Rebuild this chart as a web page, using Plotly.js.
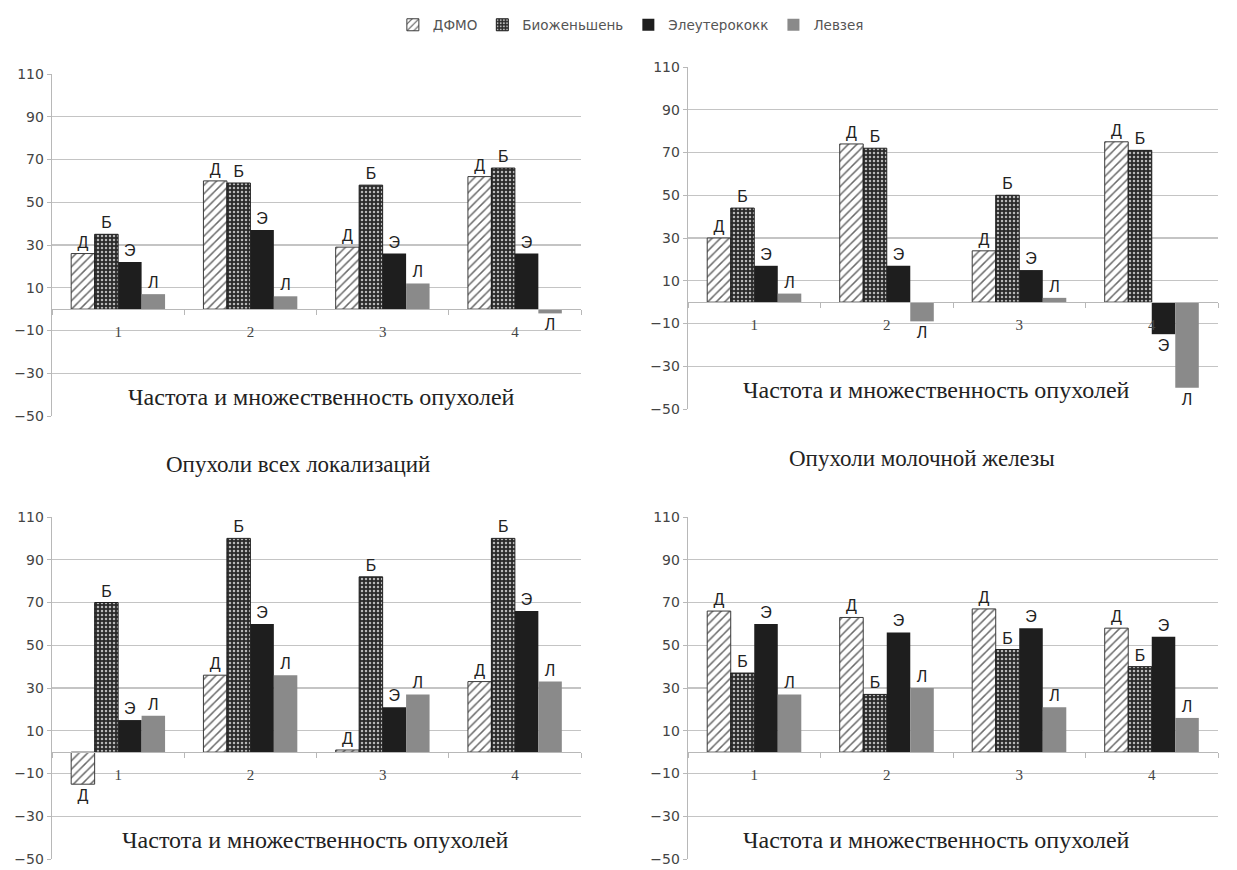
<!DOCTYPE html>
<html>
<head>
<meta charset="utf-8">
<script src="https://cdn.plot.ly/plotly-3.0.1.min.js"></script>
<style>html,body{margin:0;padding:0;background:#fff;}#chart{width:1237px;height:870px;}</style>
</head>
<body>
<div id="chart"></div>
<script>
// ---- data ----
const categories = ['1', '2', '3', '4'];
const seriesNames = ['ДФМО', 'Биоженьшень', 'Элеутерококк', 'Левзея'];
const seriesLetters = ['Д', 'Б', 'Э', 'Л'];
const yTickVals = [-50, -30, -10, 10, 30, 50, 70, 90, 110];
const panelTitles = ['Опухоли всех локализаций', 'Опухоли молочной железы', '', ''];
const axisTitle = 'Частота и множественность опухолей';

// panel 1: all localisations
const p1_dfmo = [26, 60, 29, 62];
const p1_bio = [35, 59, 58, 66];
const p1_eleu = [22, 37, 26, 26];
const p1_levz = [7, 6, 12, -2];
// panel 2: mammary gland
const p2_dfmo = [30, 74, 24, 75];
const p2_bio = [44, 72, 50, 71];
const p2_eleu = [17, 17, 15, -15];
const p2_levz = [4, -9, 2, -40];
// panel 3
const p3_dfmo = [-15, 36, 1, 33];
const p3_bio = [70, 100, 82, 100];
const p3_eleu = [15, 60, 21, 66];
const p3_levz = [17, 36, 27, 33];
// panel 4
const p4_dfmo = [66, 63, 67, 58];
const p4_bio = [37, 27, 48, 40];
const p4_eleu = [60, 56, 58, 54];
const p4_levz = [27, 30, 21, 16];

const panels = [
  [p1_dfmo, p1_bio, p1_eleu, p1_levz],
  [p2_dfmo, p2_bio, p2_eleu, p2_levz],
  [p3_dfmo, p3_bio, p3_eleu, p3_levz],
  [p4_dfmo, p4_bio, p4_eleu, p4_levz]
];

// ---- styles ----
const W = 1237, H = 870;
const seriesMarkers = [
  {color: '#ffffff', line: {color: '#3a3a3a', width: 1},
   pattern: {shape: '/', fgcolor: '#6a6a6a', bgcolor: '#ffffff', size: 6, solidity: 0.25}},
  {color: '#2a2a2a', line: {color: '#1e1e1e', width: 1},
   pattern: {shape: '.', fgcolor: '#b8b8b8', bgcolor: '#2a2a2a', size: 4, solidity: 0.3}},
  {color: '#1e1e1e', line: {width: 0}},
  {color: '#8a8a8a', line: {width: 0}}
];
// pixel boxes of plot areas: [left, right, top, bottom]
const boxes = [[52, 581, 74, 416], [688, 1218, 67, 409], [52, 581, 517, 859], [688, 1218, 517, 859]];
const axTitleX = [321, 936, 315, 936];
const yr = [-50, 110];

const traces = [];
const layout = {
  width: W, height: H,
  margin: {l: 0, r: 0, t: 0, b: 0},
  paper_bgcolor: '#ffffff', plot_bgcolor: 'rgba(0,0,0,0)',
  barmode: 'group', bargap: 0.29, bargroupgap: 0,
  showlegend: true,
  legend: {orientation: 'h', x: 0.51, xanchor: 'center', y: 1 - 25 / H, yanchor: 'middle',
           font: {family: 'DejaVu Sans', size: 13.5, color: '#555'}, itemwidth: 30, tracegroupgap: 0},
  annotations: [],
  font: {family: 'DejaVu Sans'}
};

panels.forEach((series, pi) => {
  const [l, r, t, b] = boxes[pi];
  const xd = [l / W, r / W];
  const yd = [1 - b / H, 1 - t / H];
  const sfx = pi === 0 ? '' : String(pi + 1);
  const zeroPos = yd[0] + (0 - yr[0]) / (yr[1] - yr[0]) * (yd[1] - yd[0]);
  layout['xaxis' + sfx] = {
    domain: xd, anchor: 'free', position: zeroPos, type: 'category',
    categoryorder: 'array', categoryarray: categories,
    showline: true, linecolor: '#b8b8b8', linewidth: 1.3,
    ticks: 'outside', tickson: 'boundaries', ticklen: 5, tickcolor: '#b8b8b8',
    ticklabelstandoff: 9,
    tickfont: {family: 'Liberation Serif', size: 15, color: '#444'},
    showgrid: false, zeroline: false, fixedrange: true
  };
  layout['yaxis' + sfx] = {
    domain: yd, anchor: 'x' + sfx, range: yr, tickvals: yTickVals,
    showline: true, linecolor: '#b8b8b8', linewidth: 1.3,
    ticks: 'outside', ticklen: 4, tickcolor: '#b8b8b8',
    showgrid: true, gridcolor: '#c4c4c4', gridwidth: 1.3, zeroline: false,
    tickfont: {family: 'DejaVu Sans', size: 14, color: '#444'}, fixedrange: true
  };
  series.forEach((vals, si) => {
    traces.push({
      type: 'bar', x: categories, y: vals,
      xaxis: 'x' + sfx, yaxis: 'y' + sfx,
      name: seriesNames[si], legendgroup: seriesNames[si], showlegend: pi === 0,
      marker: seriesMarkers[si],
      text: vals.map(() => seriesLetters[si]),
      textposition: 'outside', cliponaxis: false,
      textfont: {family: 'Liberation Sans', size: 16, color: '#222'},
      hoverinfo: 'skip'
    });
  });
  layout.annotations.push({
    text: axisTitle, xref: 'paper', x: axTitleX[pi] / W, xanchor: 'center',
    yref: 'y' + sfx + ' domain', y: 0.055, yanchor: 'middle', showarrow: false,
    font: {family: 'Liberation Serif', size: 24, color: '#222'}
  });
});

layout.annotations.push({
  text: panelTitles[0], xref: 'paper', x: 298 / W, yref: 'paper', y: 1 - 465 / H,
  xanchor: 'center', yanchor: 'middle', showarrow: false,
  font: {family: 'Liberation Serif', size: 23, color: '#222'}
});
layout.annotations.push({
  text: panelTitles[1], xref: 'paper', x: 922 / W, yref: 'paper', y: 1 - 458 / H,
  xanchor: 'center', yanchor: 'middle', showarrow: false,
  font: {family: 'Liberation Serif', size: 23, color: '#222'}
});

Plotly.newPlot('chart', traces, layout, {staticPlot: true, displayModeBar: false});
</script>
</body>
</html>
